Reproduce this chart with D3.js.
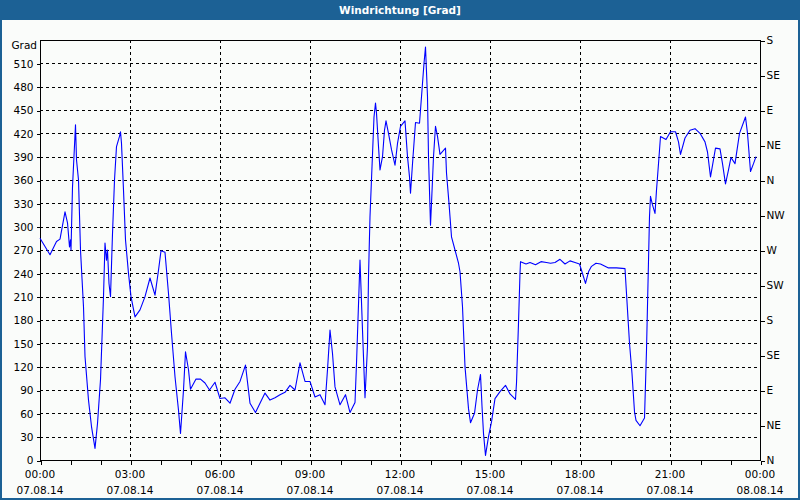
<!DOCTYPE html>
<html>
<head>
<meta charset="utf-8">
<script src="https://cdn.jsdelivr.net/npm/d3@7"></script>
<style>
  html, body { margin: 0; padding: 0; background: #fafcfa; }
  svg { display: block; }
  text { font-family: "DejaVu Sans", Verdana, sans-serif; }
</style>
</head>
<body>
<script>
// ---- Data ----
const chartTitle = "Windrichtung [Grad]";
const yUnit = "Grad";
// minutes since 07.08.14 00:00
const minutes = [0,20,33,40,50,55,59,61,62,65,71,73,77,81,87,90,97,103,110,115,121,127,130,133,135,138,141,145,149,153,159,161,163,167,171,177,182,190,200,210,220,230,237,242,250,257,263,270,277,281,287,291,297,301,312,321,330,339,350,360,370,380,390,400,411,420,431,440,450,460,470,480,490,500,510,520,530,540,550,560,570,575,580,585,590,600,611,620,630,633,640,645,650,655,657,660,664,668,671,673,677,680,685,689,692,697,703,710,715,721,730,735,739,741,745,751,759,763,768,771,775,777,781,783,787,791,795,800,811,813,818,823,830,837,840,845,850,857,861,869,875,881,884,887,891,897,903,910,920,931,940,951,953,957,960,961,972,980,991,1002,1013,1021,1030,1040,1050,1060,1070,1079,1083,1091,1097,1103,1112,1121,1137,1153,1170,1173,1179,1184,1189,1192,1200,1209,1213,1219,1221,1225,1230,1233,1237,1241,1252,1261,1271,1277,1281,1290,1300,1310,1320,1330,1335,1341,1351,1360,1365,1371,1377,1382,1390,1399,1411,1415,1421,1427,1432];
const direction = [285,264,281,284,319,305,274,283,270,351,431,386,360,270,197,133,77,43,15,47,103,210,279,257,270,227,210,291,360,403,416,422,407,347,283,240,210,184,193,210,234,212,244,269,267,214,163,107,64,34,90,139,116,91,104,104,99,90,100,79,80,73,91,101,122,73,61,73,86,77,80,84,87,96,90,125,101,101,81,84,71,116,167,137,94,71,84,61,74,124,257,167,80,146,236,313,377,441,459,446,403,373,390,424,436,420,399,379,407,429,436,390,364,343,381,434,433,467,510,531,467,390,302,330,390,429,416,393,401,369,330,287,270,253,242,197,120,66,48,60,90,110,69,34,6,30,49,79,88,96,85,78,99,176,240,255,252,254,251,255,254,253,254,258,252,256,254,252,244,227,242,249,253,252,247,247,246,214,150,111,62,51,44,54,141,313,339,328,317,347,381,416,412,422,422,409,393,414,424,426,420,409,396,364,401,400,381,355,373,389,381,420,441,420,371,381,390];
const yTicks = [0,30,60,90,120,150,180,210,240,270,300,330,360,390,420,450,480,510];
const compassValues = [0,45,90,135,180,225,270,315,360,405,450,495,540];
const compassLabels = ["N","NE","E","SE","S","SW","W","NW","N","NE","E","SE","S"];
const majorHours = [0,3,6,9,12,15,18,21,24];

// ---- Layout ----
const W = 800, H = 500;
const L = 40, R = 760, T = 40, B = 460;
const blue = "#1c6195";

const svg = d3.select("body").append("svg").attr("width", W).attr("height", H);

const start = new Date(2014, 7, 7, 0, 0);
const end = new Date(2014, 7, 8, 0, 0);
const x = d3.scaleTime().domain([start, end]).range([L, R]);
const y = d3.scaleLinear().domain([0, 540]).range([B, T]);

const data = minutes.map((m, i) => ({ t: new Date(start.getTime() + m * 60000), v: direction[i] }));

// background
svg.append("rect").attr("width", W).attr("height", H).attr("fill", "#fafcfa");

// title bar
svg.append("rect").attr("x", 0).attr("y", 0).attr("width", W).attr("height", 20).attr("fill", blue);
svg.append("text").attr("x", W / 2).attr("y", 11).attr("text-anchor", "middle")
  .attr("dominant-baseline", "middle").attr("fill", "#fff")
  .attr("font-size", "10.5px").attr("font-weight", "bold").text(chartTitle);

// outer border
svg.append("rect").attr("x", 1).attr("y", 1).attr("width", W - 2).attr("height", H - 2)
  .attr("fill", "none").attr("stroke", blue).attr("stroke-width", 2);

// grid
const grid = svg.append("g").attr("shape-rendering", "crispEdges")
  .attr("stroke", "#000").attr("stroke-dasharray", "3,3").attr("stroke-width", 1);
grid.selectAll("line.h").data(yTicks.filter(v => v > 0)).join("line")
  .attr("x1", L).attr("x2", R).attr("y1", d => Math.round(y(d)) + 0.5).attr("y2", d => Math.round(y(d)) + 0.5);
grid.selectAll("line.v").data(majorHours.filter(h => h > 0 && h < 24)).join("line")
  .attr("y1", T).attr("y2", B)
  .attr("x1", d => Math.round(x(new Date(start.getTime() + d * 3600000))) + 0.5)
  .attr("x2", d => Math.round(x(new Date(start.getTime() + d * 3600000))) + 0.5);

// left axis
const yAxis = d3.axisLeft(y).tickValues(yTicks).tickSize(4).tickPadding(3).tickFormat(d3.format("d"));
const gy = svg.append("g").attr("transform", `translate(${L + 0.5},0.5)`).call(yAxis);
gy.select(".domain").remove();
gy.selectAll("text").attr("font-size", "10.5px").attr("fill", "#000").attr("font-family", "DejaVu Sans");
gy.selectAll("line").attr("stroke", "#000").attr("shape-rendering", "crispEdges");
svg.append("text").attr("x", 37).attr("y", 46).attr("text-anchor", "end").attr("dominant-baseline", "middle")
  .attr("font-size", "10.5px").attr("fill", "#000").text(yUnit);

// right axis
const yAxisR = d3.axisRight(y).tickValues(compassValues).tickSize(4).tickPadding(2)
  .tickFormat((d, i) => compassLabels[i]);
const gr = svg.append("g").attr("transform", `translate(${R + 0.5},0.5)`).call(yAxisR);
gr.select(".domain").remove();
gr.selectAll("text").attr("font-size", "10.5px").attr("fill", "#000").attr("font-family", "DejaVu Sans");
gr.selectAll("line").attr("stroke", "#000").attr("shape-rendering", "crispEdges");

// bottom axis
const xAxis = d3.axisBottom(x).ticks(d3.timeHour.every(1)).tickSize(4).tickFormat("");
const gx = svg.append("g").attr("transform", `translate(0.5,${B + 0.5})`).call(xAxis);
gx.select(".domain").remove();
gx.selectAll("line").attr("stroke", "#000").attr("shape-rendering", "crispEdges");

const fmtTime = d3.timeFormat("%H:%M"), fmtDate = d3.timeFormat("%d.%m.%y");
const lbl = svg.append("g").attr("font-size", "10.5px").attr("fill", "#000").attr("text-anchor", "middle");
majorHours.forEach(h => {
  const d = new Date(start.getTime() + h * 3600000);
  lbl.append("text").attr("x", x(d)).attr("y", 478).text(fmtTime(d));
  lbl.append("text").attr("x", x(d)).attr("y", 494).text(fmtDate(d));
});

// frame
svg.append("rect").attr("x", L + 0.5).attr("y", T + 0.5).attr("width", R - L).attr("height", B - T)
  .attr("fill", "none").attr("stroke", "#000").attr("stroke-width", 1).attr("shape-rendering", "crispEdges");

// line
const line = d3.line().x(d => x(d.t)).y(d => y(d.v));
svg.append("path").datum(data).attr("d", line).attr("fill", "none")
  .attr("stroke", "#0000ff").attr("stroke-width", 1.1).attr("stroke-linejoin", "round");
</script>
</body>
</html>
